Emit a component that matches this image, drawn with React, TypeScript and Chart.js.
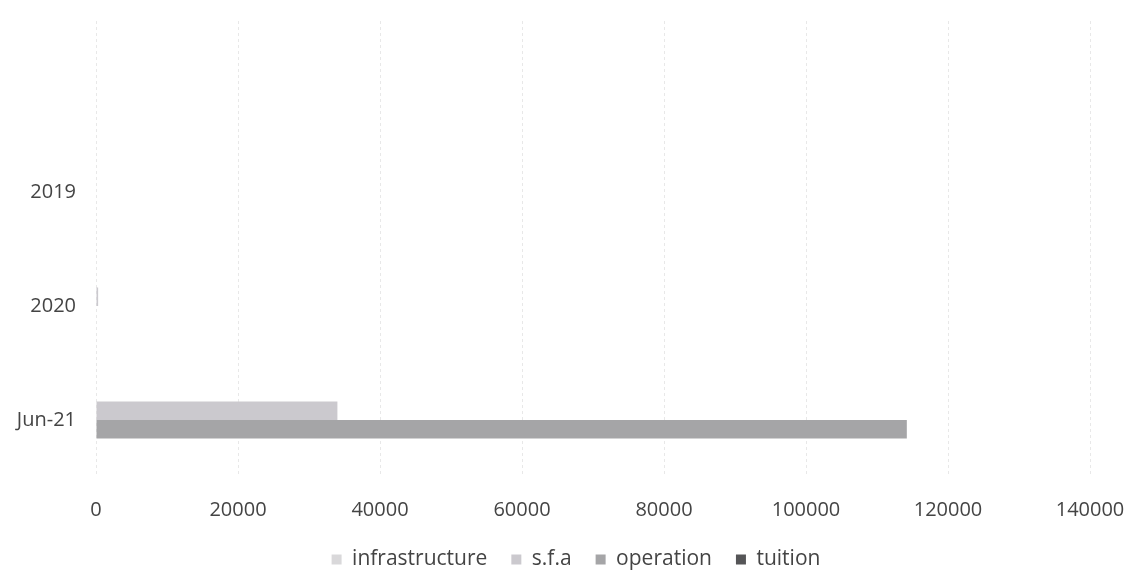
import React, { useEffect, useRef } from "react";
import { Chart, registerables } from "chart.js";

Chart.register(...registerables);

// Period rows, top to bottom (the first row is left blank)
const periods = ["", "2019", "2020", "Jun-21"];

const infrastructure = [null, 0, 0, 0];
const sfa = [null, 0, 300, 34000];
const operation = [null, 0, 0, 114200];
const tuition = [null, 0, 0, 0];

const xTicks = [0, 20000, 40000, 60000, 80000, 100000, 120000, 140000];

const FONT = "'Open Sans', 'DejaVu Sans', sans-serif";

// Nudges the centred legend row to the right of the canvas centre
const legendOffset = {
  id: "legendOffset",
  afterLayout(chart: any) {
    const lg = chart.legend;
    if (!lg) return;
    lg.left += 31;
    lg.right += 31;
  },
};

export default function App() {
  const canvasRef = useRef<HTMLCanvasElement | null>(null);

  useEffect(() => {
    const ctx = canvasRef.current;
    if (!ctx) return;
    const chart = new Chart(ctx, {
      type: "bar",
      data: {
        labels: periods,
        datasets: [
          { label: "infrastructure", data: infrastructure, backgroundColor: "#d9d8da" },
          { label: "s.f.a", data: sfa, backgroundColor: "#cbc9ce" },
          { label: "operation", data: operation, backgroundColor: "#a5a5a7" },
          { label: "tuition", data: tuition, backgroundColor: "#555557" },
        ],
      },
      plugins: [legendOffset],
      options: {
        indexAxis: "y",
        animation: false,
        responsive: false,
        maintainAspectRatio: false,
        datasets: {
          bar: { categoryPercentage: 0.65, barPercentage: 1, borderWidth: 0 },
        },
        layout: { padding: { left: 0, right: 40, top: 21, bottom: -8 } },
        scales: {
          x: {
            min: 0,
            max: 140000,
            afterBuildTicks: (axis: any) => {
              axis.ticks = xTicks.map((v) => ({ value: v }));
            },
            afterFit: (axis: any) => {
              axis.height = 48;
              axis.paddingLeft = 0;
              axis.paddingRight = 0;
            },
            ticks: {
              color: "#444",
              font: { family: FONT, size: 20 },
              padding: 21,
              callback: (v: any) => String(v),
            },
            grid: {
              color: "rgba(0,0,0,0.09)",
              drawTicks: false,
            },
            border: { display: false, dash: [3, 3] },
          },
          y: {
            afterFit: (axis: any) => {
              axis.width = 96;
              axis.paddingTop = 0;
              axis.paddingBottom = 0;
            },
            ticks: {
              color: "#444",
              font: { family: FONT, size: 20 },
              padding: 20,
            },
            grid: { display: false, drawTicks: false },
            border: { display: false },
          },
        },
        plugins: {
          legend: {
            position: "bottom",
            labels: {
              color: "#444",
              font: { family: FONT, size: 21 },
              boxWidth: 10,
              boxHeight: 10,
              padding: 24,
            },
          },
          tooltip: { enabled: false },
        },
      },
    });
    return () => chart.destroy();
  }, []);

  return (
    <div style={{ position: "fixed", left: 0, top: 0, width: 1130, height: 572, background: "#fff" }}>
      <canvas ref={canvasRef} width={1130} height={572} />
    </div>
  );
}
